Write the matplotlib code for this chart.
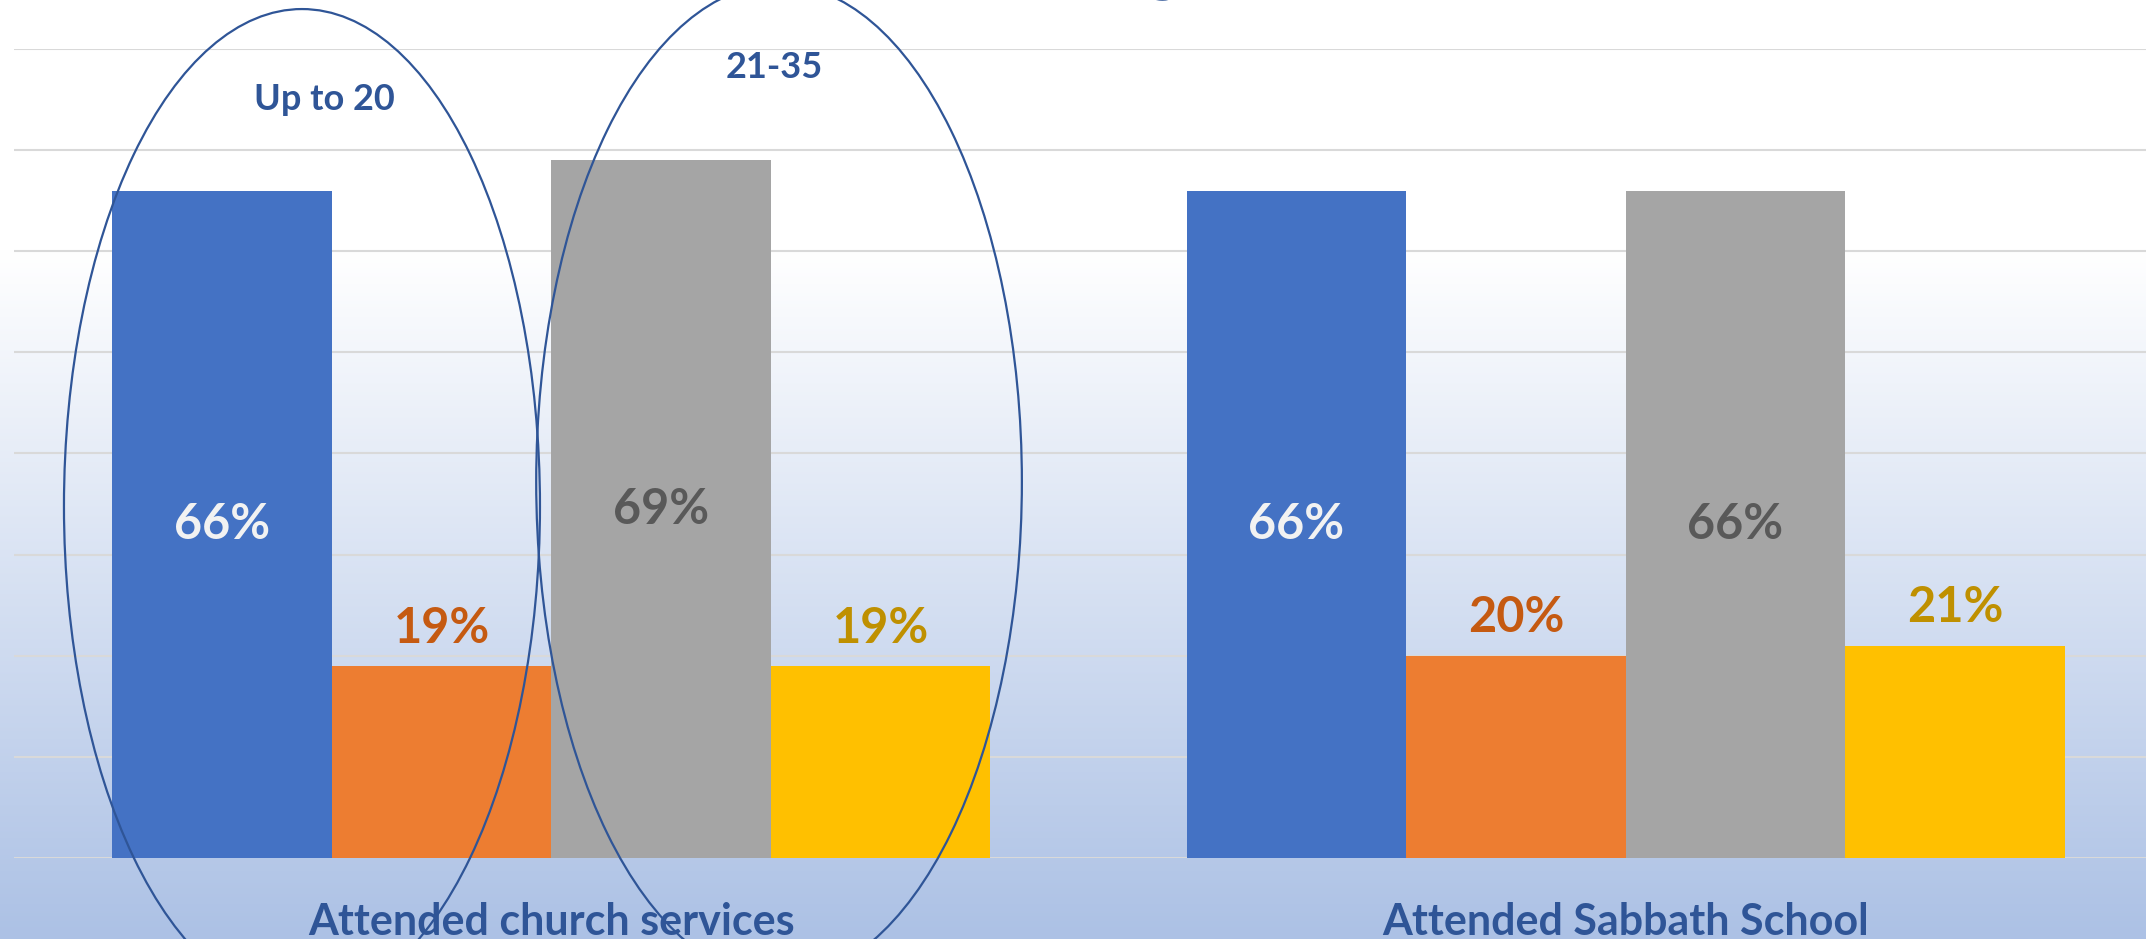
import numpy as np
import matplotlib
matplotlib.use('Agg')
import matplotlib.pyplot as plt
from matplotlib.patches import Ellipse
import matplotlib.transforms as mtransforms

plt.rcParams['font.family'] = ['Lato', 'DejaVu Sans']

categories = ['Attended church services', 'Attended Sabbath School']
series_names = ['Up to 20 (a)', 'Up to 20 (b)', '21-35 (a)', '21-35 (b)']
vals_blue = [66, 66]
vals_orange = [19, 20]
vals_gray = [69, 66]
vals_yellow = [19, 21]
group_labels = ['Up to 20', '21-35']

bar_colors = ['#4472C4', '#ED7D31', '#A5A5A5', '#FFC000']
label_colors = ['#F2F2F2', '#C55A11', '#595959', '#BF9000']
label_types = ['center', 'edge', 'center', 'edge']
navy = '#2F5597'

W, H = 2146, 939
fig = plt.figure(figsize=(W / 100, H / 100), dpi=100)

# gradient background: white at the top, fading to light blue
bg = fig.add_axes([0, 0, 1, 1], zorder=0)
t = np.linspace(0, 1, 400)
y0 = 0.267
f = np.clip((t - y0) / (1 - y0), 0, 1)
top = np.array([255, 255, 255]) / 255
bot = np.array([172, 193, 229]) / 255
grad = top[None, :] * (1 - f[:, None]) + bot[None, :] * f[:, None]
bg.imshow(grad[:, None, :], aspect='auto', origin='upper', extent=[0, 1, 0, 1])
bg.set_xlim(0, 1)
bg.set_ylim(0, 1)
bg.set_axis_off()

# main plot area (0..80 %, two category groups)
unit = 1074.5
ax = fig.add_axes([14 / W, (H - 858) / H, 2 * unit / W, (858 - 49) / H], zorder=1)
ax.patch.set_alpha(0)
ax.set_xlim(-0.5, 1.5)
ax.set_ylim(0, 80)
ax.set_yticks(np.arange(0, 81, 10))
ax.yaxis.grid(True, color='#D9D9D9', linewidth=1.5)
ax.set_axisbelow(True)
ax.tick_params(left=False, bottom=False, labelleft=False, labelbottom=False)
for s in ax.spines.values():
    s.set_visible(False)

x = np.arange(len(categories))
bw = 0.2043
all_vals = [vals_blue, vals_orange, vals_gray, vals_yellow]
for i, vals in enumerate(all_vals):
    bars = ax.bar(x + (i - 1.5) * bw, vals, width=bw, color=bar_colors[i],
                  label=series_names[i], zorder=2)
    ax.bar_label(bars, labels=[f'{v}%' for v in vals], label_type=label_types[i],
                 padding=0 if label_types[i] == 'center' else 11,
                 color=label_colors[i], fontsize=35, fontweight='bold')

# category labels below the baseline
trans = mtransforms.blended_transform_factory(ax.transData, ax.transAxes)
for xi, c in zip(x, categories):
    ax.text(xi, -0.0952, c, transform=trans, ha='center', va='baseline',
            fontsize=31, fontweight='bold', color=navy, clip_on=False)

# ellipses around age groups
ax.add_patch(Ellipse((-0.232, 34.8), 0.443, 98.3, fill=False, edgecolor=navy,
                     linewidth=1.6, clip_on=False, zorder=3))
ax.add_patch(Ellipse((0.212, 37.2), 0.452, 98.4, fill=False, edgecolor=navy,
                     linewidth=1.6, clip_on=False, zorder=3))
ax.text(-0.2115, 75.0, group_labels[0], ha='center', va='center', fontsize=26,
        fontweight='bold', color=navy)
ax.text(0.208, 78.2, group_labels[1], ha='center', va='center', fontsize=26,
        fontweight='bold', color=navy)

# title mostly cropped off the top of the slide
fig.text(1163 / W, 1 + 12 / H, 'g', ha='center', va='baseline', fontsize=44,
         fontweight='bold', color=navy)

fig.savefig('out.png', dpi=100)
